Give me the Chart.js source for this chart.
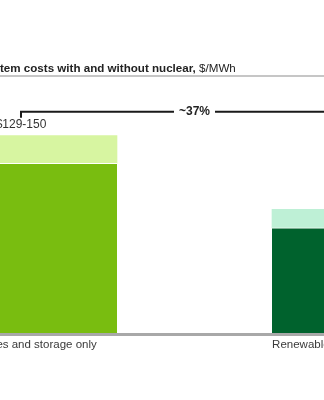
<!DOCTYPE html>
<html>
<head>
<meta charset="utf-8">
<script src="https://cdn.jsdelivr.net/npm/chart.js@4"></script>
<style>
  html, body { margin: 0; padding: 0; background: #fff; }
  #wrap { width: 324px; height: 400px; position: relative; }
</style>
</head>
<body>
<div id="wrap"><canvas id="cost-chart"></canvas></div>
<script>
const categories = ['Renewables and storage only', 'Renewables and storage with nuclear'];
const lowCost = [129, 80];
const highCost = [150, 94];
const rangeLabels = ['$129-150', '$80-94'];
const reductionLabel = '~37%';

const baseColors = ['#79bd10', '#00622d'];
const topColors = ['#d7f5a1', '#bef0d6'];
const FONT = 'Arial, "Liberation Sans", sans-serif';

const ctx = document.getElementById('cost-chart');

// annotations: title, range labels, bracket, baseline and category names
const decorations = {
  id: 'decorations',
  afterDatasetsDraw(chart) {
    const c = chart.ctx;
    const xs = chart.scales.x;
    const ys = chart.scales.y;
    const w = chart.width;
    c.save();

    // title
    c.fillStyle = '#222';
    c.textBaseline = 'alphabetic';
    c.textAlign = 'left';
    c.font = 'bold 11.6px ' + FONT;
    const titleBold = 'System costs with and without nuclear,';
    const startX = -c.measureText('Sys').width;
    c.fillText(titleBold, startX, 72);
    const bw = c.measureText(titleBold + ' ').width;
    c.font = '11.6px ' + FONT;
    c.fillText('$/MWh', startX + bw, 72);

    c.strokeStyle = '#c6c6c6';
    c.lineWidth = 2;
    c.beginPath();
    c.moveTo(0, 76);
    c.lineTo(w, 76);
    c.stroke();

    // range labels above bars
    c.font = '12px ' + FONT;
    c.fillStyle = '#333';
    c.textAlign = 'center';
    categories.forEach((_, i) => {
      c.fillText(rangeLabels[i], xs.getPixelForValue(i), ys.getPixelForValue(highCost[i]) - 8);
    });

    // bracket between the two bars
    const x0 = xs.getPixelForValue(0);
    const x1 = xs.getPixelForValue(1);
    const by = ys.getPixelForValue(highCost[0]) - 24;
    const mid = (x0 + x1) / 2;
    c.font = 'bold 12px ' + FONT;
    const half = c.measureText(reductionLabel).width / 2 + 5;
    c.strokeStyle = '#1a1a1a';
    c.lineWidth = 2;
    c.beginPath();
    c.moveTo(x0, by + 6);
    c.lineTo(x0, by);
    c.lineTo(mid - half, by);
    c.moveTo(mid + half, by);
    c.lineTo(x1, by);
    c.lineTo(x1, by + 6);
    c.stroke();
    c.fillStyle = '#222';
    c.textBaseline = 'middle';
    c.fillText(reductionLabel, mid, by);

    // baseline
    const y0 = ys.getPixelForValue(0);
    c.strokeStyle = '#a8a8a8';
    c.lineWidth = 3;
    c.beginPath();
    c.moveTo(0, y0 + 1.5);
    c.lineTo(w, y0 + 1.5);
    c.stroke();

    // category names
    c.font = '11.5px ' + FONT;
    c.fillStyle = '#3a3a3a';
    c.textBaseline = 'top';
    categories.forEach((name, i) => {
      c.fillText(name, xs.getPixelForValue(i), y0 + 6);
    });
    c.restore();
  }
};

new Chart(ctx, {
  type: 'bar',
  data: {
    datasets: [
      {
        data: categories.map((_, i) => ({ x: i, y: [0, lowCost[i]] })),
        backgroundColor: baseColors,
        borderColor: '#ffffff',
        borderWidth: { top: 1, left: 0, right: 0, bottom: 0 },
        borderSkipped: false,
        barThickness: 192,
        grouped: false
      },
      {
        data: categories.map((_, i) => ({ x: i, y: [lowCost[i], highCost[i]] })),
        backgroundColor: topColors,
        borderWidth: 0,
        barThickness: 192,
        grouped: false
      }
    ]
  },
  options: {
    responsive: true,
    maintainAspectRatio: false,
    animation: false,
    layout: { padding: { top: 83, bottom: 67, left: 0, right: 0 } },
    plugins: { legend: { display: false }, tooltip: { enabled: false }, title: { display: false } },
    scales: {
      x: { type: 'linear', min: -0.0605, max: 0.8732, offset: false, display: false },
      y: { min: 0, max: 190, display: false }
    }
  },
  plugins: [decorations]
});
</script>
</body>
</html>
